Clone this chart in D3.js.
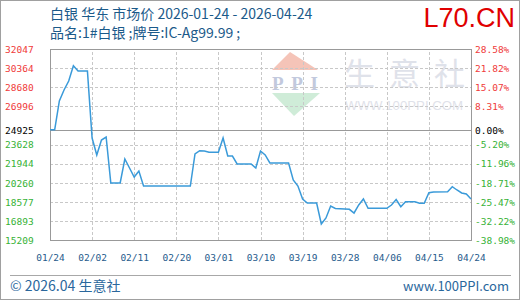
<!DOCTYPE html>
<html>
<head>
<meta charset="utf-8">
<script src="https://cdn.jsdelivr.net/npm/d3@7"></script>
<style>
  body { margin: 0; background: #fff; }
  svg { display: block; }
  .cn { font-family: "Noto Sans CJK SC", "Noto Sans", sans-serif; }
  .num { font-family: "DejaVu Sans Mono", monospace; font-size: 9.5px; }
</style>
</head>
<body>
<div id="chart"></div>
<script>
// sparse vertices of the price line (2026)
const dates = [
  "01-24", "01-25", "01-26", "01-27", "01-28", "01-29", "01-30", "02-01",
  "02-02", "02-03", "02-04", "02-05", "02-06", "02-08", "02-09", "02-10",
  "02-11", "02-12", "02-13", "02-23", "02-24", "02-25", "02-26", "02-27",
  "03-01", "03-02", "03-03", "03-04", "03-05", "03-08", "03-09", "03-10",
  "03-11", "03-12", "03-16", "03-17", "03-18", "03-19", "03-20", "03-22",
  "03-23", "03-24", "03-25", "03-26", "03-29", "03-30", "03-31", "04-01",
  "04-02", "04-06", "04-07", "04-08", "04-09", "04-10", "04-12", "04-13",
  "04-14", "04-15", "04-16", "04-19", "04-20", "04-21", "04-22", "04-23",
  "04-24"
];
const prices = [
  24925, 24925, 27463, 28433, 29226, 30575, 30108, 30108,
  24201, 22703, 24025, 24289, 20234, 20234, 22350, 21557,
  20763, 21292, 19970, 19970, 22791, 23082, 23055, 22941,
  22941, 24201, 22614, 22614, 21909, 21909, 21557, 23055,
  22703, 21997, 21997, 20499, 19970, 18824, 18471, 18471,
  16620, 17149, 18206, 17986, 17916, 17589, 18295, 18824,
  18004, 18004, 18295, 18779, 18145, 18586, 18586, 18444,
  18444, 19379, 19441, 19467, 19908, 19617, 19353, 19264,
  18824
];
const basePrice = 24925;
const yTicks = [32047, 30364, 28680, 26996, 24925, 23628, 21944, 20260, 18577, 16893, 15209];
const pctLabels = ["28.58%", "21.82%", "15.07%", "8.31%", "0.00%", "-5.20%", "-11.96%", "-18.71%", "-25.47%", "-32.22%", "-38.98%"];
const xTickLabels = ["01-24", "02-02", "02-11", "02-20", "03-01", "03-10", "03-19", "03-28", "04-06", "04-15", "04-24"];

const W = 520, H = 300;
const plot = { left: 50, right: 471, top: 49, bottom: 240 };
const parse = s => d3.timeParse("%Y-%m-%d")("2026-" + s);
const data = dates.map((d, i) => ({ date: parse(d), value: prices[i] }));

const x = d3.scaleTime()
  .domain([parse("01-24"), parse("04-24")])
  .range([plot.left, plot.right]);
const y = d3.scaleLinear()
  .domain([d3.min(yTicks), d3.max(yTicks)])
  .range([plot.bottom, plot.top]);

const svg = d3.select("#chart").append("svg")
  .attr("width", W)
  .attr("height", H);

// outer frame
svg.append("rect")
  .attr("x", 0.5).attr("y", 0.5)
  .attr("width", W - 1).attr("height", H - 1)
  .attr("fill", "#fff").attr("stroke", "#a0a0a0");

// watermark
const wm = svg.append("g");
wm.append("path").attr("d", "M290,52L318,70L272,70Z").attr("fill", "#f5c4b8");
wm.append("text").attr("x", 295).attr("y", 90).attr("text-anchor", "middle")
  .attr("font-family", "Liberation Serif").attr("font-weight", "bold")
  .attr("font-size", 19).attr("fill", "#c2c9dd").attr("textLength", 46)
  .text("PPI");
wm.append("path").attr("d", "M272,93L320,93L294,116Z").attr("fill", "#cfecd8");
wm.selectAll(".wmch")
  .data(["生", "意", "社"])
  .enter()
  .append("text")
  .attr("class", "cn")
  .attr("x", (d, i) => 344 + i * 45).attr("y", 85)
  .attr("font-size", 31).attr("fill", "#dfe2ea")
  .text(d => d);
wm.append("text").attr("x", 345).attr("y", 110)
  .attr("font-family", "Liberation Sans Narrow, Liberation Sans").attr("font-size", 13)
  .attr("fill", "#dfe2ea").attr("textLength", 118).attr("lengthAdjust", "spacingAndGlyphs")
  .text("WWW.100PPI.COM");

// grid
const xTickDates = xTickLabels.map(parse);
svg.append("g")
  .attr("transform", `translate(0,${plot.bottom})`)
  .call(d3.axisBottom(x).tickValues(xTickDates.slice(1, -1))
    .tickSize(-(plot.bottom - plot.top)).tickFormat(""))
  .call(g => g.select(".domain").remove())
  .selectAll("line")
  .attr("stroke", "#c8c8c8").attr("stroke-dasharray", "3,2")
  .attr("shape-rendering", "crispEdges");

svg.append("g")
  .attr("transform", `translate(${plot.left},0)`)
  .call(d3.axisLeft(y).tickValues(yTicks.filter(v => v !== basePrice).slice(1, -1))
    .tickSize(-(plot.right - plot.left)).tickFormat(""))
  .call(g => g.select(".domain").remove())
  .selectAll("line")
  .attr("stroke", "#c8c8c8").attr("stroke-dasharray", "3,2")
  .attr("shape-rendering", "crispEdges");

// base line and plot frame
svg.append("line")
  .attr("x1", plot.left).attr("x2", plot.right)
  .attr("y1", Math.round(y(basePrice)) + 0.5).attr("y2", Math.round(y(basePrice)) + 0.5)
  .attr("stroke", "#999");
svg.append("rect")
  .attr("x", plot.left + 0.5).attr("y", plot.top + 0.5)
  .attr("width", plot.right - plot.left).attr("height", plot.bottom - plot.top)
  .attr("fill", "none").attr("stroke", "#999");

// price line
svg.append("path")
  .datum(data)
  .attr("fill", "none")
  .attr("stroke", "#3a9ad9")
  .attr("stroke-width", 1.5)
  .attr("d", d3.line().x(d => x(d.date)).y(d => y(d.value)));

const tickColor = v => v > basePrice ? "#f03a3a" : v < basePrice ? "#36b236" : "#000";

// left axis labels
svg.append("g")
  .call(d3.axisLeft(y).tickValues(yTicks).tickSize(0).tickFormat(d3.format("d")))
  .call(g => g.select(".domain").remove())
  .selectAll("text")
  .attr("class", "num")
  .attr("x", 5).attr("dy", "0.35em")
  .attr("text-anchor", "start")
  .attr("fill", d => tickColor(d));

// right axis labels
svg.append("g")
  .attr("transform", `translate(${plot.right},0)`)
  .call(d3.axisRight(y).tickValues(yTicks).tickSize(0).tickPadding(4)
    .tickFormat((d, i) => pctLabels[i]))
  .call(g => g.select(".domain").remove())
  .selectAll("text")
  .attr("class", "num")
  .attr("dy", "0.35em")
  .attr("fill", d => tickColor(d));

// x axis labels
svg.append("g")
  .attr("transform", `translate(0,${plot.bottom})`)
  .call(d3.axisBottom(x).tickValues(xTickDates).tickSize(0)
    .tickFormat(d3.timeFormat("%m/%d")))
  .call(g => g.select(".domain").remove())
  .selectAll("text")
  .attr("class", "num")
  .attr("y", 21).attr("dy", 0)
  .attr("fill", "#1f5b8c");

// titles
svg.append("text").attr("class", "cn")
  .attr("x", 50).attr("y", 19).attr("font-size", 14).attr("fill", "#1b5a8a")
  .text("白银 华东 市场价 2026-01-24 - 2026-04-24");
svg.append("text").attr("class", "cn")
  .attr("x", 50).attr("y", 38).attr("font-size", 14).attr("fill", "#1b5a8a")
  .text("品名:1#白银 ;牌号:IC-Ag99.99 ;");
svg.append("text")
  .attr("x", 515).attr("y", 27).attr("text-anchor", "end")
  .attr("font-family", "Liberation Sans").attr("font-size", 27).attr("fill", "#e00000")
  .text("L70.CN");

// footer
svg.append("line")
  .attr("x1", 10).attr("x2", 511).attr("y1", 275.5).attr("y2", 275.5)
  .attr("stroke", "#a8a8a8");
svg.append("text").attr("class", "cn")
  .attr("x", 10).attr("y", 291).attr("font-size", 14).attr("fill", "#2a679c")
  .text("© 2026.04 生意社");
svg.append("text").attr("class", "cn")
  .attr("x", 509).attr("y", 291).attr("text-anchor", "end")
  .attr("font-size", 13).attr("fill", "#2a679c")
  .text("www.100PPI.com");
</script>
</body>
</html>
